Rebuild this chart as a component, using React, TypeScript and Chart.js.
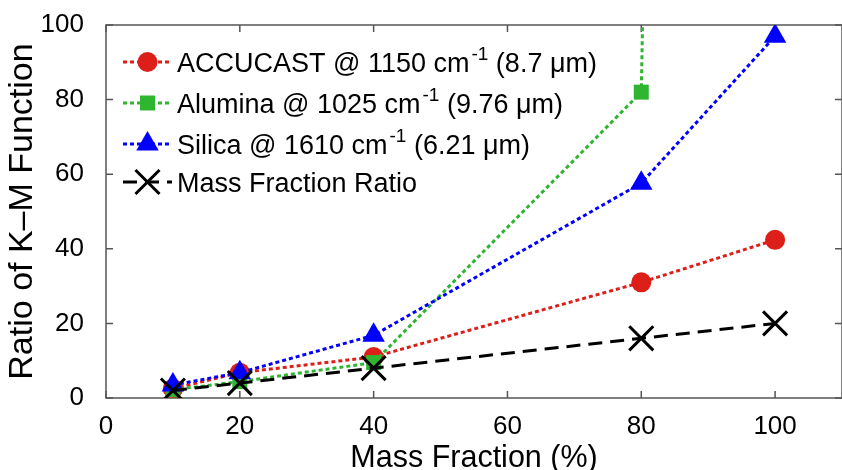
import React, { useEffect, useRef } from 'react';
import { Chart, registerables } from 'chart.js';

Chart.register(...registerables);

const massFraction = [10, 20, 40, 80, 100];
const accucast = [2.5, 6.8, 11, 31, 42.4];
const alumina = [2.2, 4.4, 9.5, 82, 2000];
const silica = [3.5, 6.8, 16.8, 57.6, 97];
const massRatio = [2, 4, 8, 16, 20];
const xTicks = [0, 20, 40, 60, 80, 100];
const yTicks = [0, 20, 40, 60, 80, 100];

const FONT = "'Liberation Sans', Arial, sans-serif";

const legendItems = [
  { pre: 'ACCUCAST @ 1150 cm', sup: '-1', post: ' (8.7 μm)', color: '#dd1f1a', dash: [4, 3], style: 'circle', r: 10 },
  { pre: 'Alumina @ 1025 cm', sup: '-1', post: ' (9.76 μm)', color: '#2fb52f', dash: [4, 3], style: 'rect', r: 10.6 },
  { pre: 'Silica @ 1610 cm', sup: '-1', post: ' (6.21 μm)', color: '#0000ff', dash: [4, 3], style: 'triangle', r: 13 },
  { pre: 'Mass Fraction Ratio', sup: '', post: '', color: '#000000', dash: [14, 8], style: 'crossRot', r: 17 },
];

function marker(ctx: CanvasRenderingContext2D, style: string, r: number, x: number, y: number) {
  ctx.beginPath();
  if (style === 'circle') {
    ctx.arc(x, y, r, 0, Math.PI * 2);
    ctx.fill();
  } else if (style === 'rect') {
    const s = Math.SQRT1_2 * r;
    ctx.rect(x - s, y - s, 2 * s, 2 * s);
    ctx.fill();
  } else if (style === 'triangle') {
    ctx.moveTo(x, y - r);
    ctx.lineTo(x + r * Math.sin(Math.PI / 3), y + r * 0.5);
    ctx.lineTo(x - r * Math.sin(Math.PI / 3), y + r * 0.5);
    ctx.closePath();
    ctx.fill();
  } else {
    const o = Math.SQRT1_2 * r;
    ctx.moveTo(x - o, y - o);
    ctx.lineTo(x + o, y + o);
    ctx.moveTo(x - o, y + o);
    ctx.lineTo(x + o, y - o);
    ctx.lineWidth = 3;
    ctx.stroke();
  }
}

const framePlugin = {
  id: 'frame',
  beforeDatasetsDraw(chart: any) {
    const { ctx, chartArea } = chart;
    const { left, right, top, bottom } = chartArea;
    const xs = chart.scales.x;
    const ys = chart.scales.y;
    ctx.save();
    ctx.strokeStyle = '#555555';
    ctx.lineWidth = 1.5;
    ctx.strokeRect(left, top, right - left, bottom - top);
    ctx.beginPath();
    const tl = 7;
    xTicks.forEach((v) => {
      const px = xs.getPixelForValue(v);
      ctx.moveTo(px, bottom);
      ctx.lineTo(px, bottom - tl);
      ctx.moveTo(px, top);
      ctx.lineTo(px, top + tl);
    });
    yTicks.forEach((v) => {
      const py = ys.getPixelForValue(v);
      ctx.moveTo(left, py);
      ctx.lineTo(left + tl, py);
      ctx.moveTo(right, py);
      ctx.lineTo(right - tl, py);
    });
    ctx.stroke();
    ctx.restore();
  },
};

const legendPlugin = {
  id: 'customLegend',
  afterDraw(chart: any) {
    const { ctx } = chart;
    const x0 = 123;
    const x1 = 172;
    const tx = 177;
    const rows = [62, 103, 144, 182];
    ctx.save();
    legendItems.forEach((it, i) => {
      const y = rows[i];
      ctx.strokeStyle = it.color;
      ctx.lineWidth = 3;
      ctx.setLineDash(it.dash);
      ctx.beginPath();
      ctx.moveTo(x0, y);
      ctx.lineTo(x1, y);
      ctx.stroke();
      ctx.setLineDash([]);
      ctx.fillStyle = it.color;
      marker(ctx, it.style, it.r, (x0 + x1) / 2, y);
      ctx.fillStyle = '#000';
      ctx.textBaseline = 'alphabetic';
      ctx.textAlign = 'left';
      ctx.font = `27px ${FONT}`;
      const base = y + 10;
      let cx = tx;
      ctx.fillText(it.pre, cx, base);
      cx += ctx.measureText(it.pre).width + 2;
      if (it.sup) {
        ctx.font = `19px ${FONT}`;
        ctx.fillText(it.sup, cx, base - 12);
        cx += ctx.measureText(it.sup).width;
        ctx.font = `27px ${FONT}`;
        ctx.fillText(it.post, cx, base);
      }
    });
    ctx.restore();
  },
};

export default function App() {
  const ref = useRef<HTMLCanvasElement>(null);
  useEffect(() => {
    if (!ref.current) return;
    const mk = (arr: number[]) => massFraction.map((x, i) => ({ x, y: arr[i] }));
    const chart = new Chart(ref.current, {
      type: 'line',
      data: {
        datasets: [
          {
            label: 'ACCUCAST @ 1150 cm-1 (8.7 μm)',
            data: mk(accucast),
            borderColor: '#dd1f1a',
            backgroundColor: '#dd1f1a',
            borderWidth: 3,
            borderDash: [4, 3],
            pointStyle: 'circle',
            pointRadius: 10,
            pointBorderWidth: 0,
            order: 3,
          },
          {
            label: 'Alumina @ 1025 cm-1 (9.76 μm)',
            data: mk(alumina),
            borderColor: '#2fb52f',
            backgroundColor: '#2fb52f',
            borderWidth: 3,
            borderDash: [4, 3],
            pointStyle: 'rect',
            pointRadius: 10.6,
            pointBorderWidth: 0,
            order: 2,
          },
          {
            label: 'Silica @ 1610 cm-1 (6.21 μm)',
            data: mk(silica),
            borderColor: '#0000ff',
            backgroundColor: '#0000ff',
            borderWidth: 3,
            borderDash: [4, 3],
            pointStyle: 'triangle',
            pointRadius: 13,
            pointBorderWidth: 0,
            order: 1,
          },
          {
            label: 'Mass Fraction Ratio',
            data: mk(massRatio),
            borderColor: '#000000',
            backgroundColor: '#000000',
            borderWidth: 3,
            borderDash: [14, 8],
            pointStyle: 'crossRot',
            pointRadius: 17,
            pointBorderWidth: 3,
            order: 0,
          },
        ],
      },
      options: {
        animation: false,
        responsive: true,
        maintainAspectRatio: false,
        layout: { autoPadding: false, padding: { top: 25, right: 0, left: 0, bottom: 0 } },
        plugins: { legend: { display: false }, tooltip: { enabled: false } },
        scales: {
          x: {
            type: 'linear',
            min: 0,
            max: 110,
            grid: { display: false },
            border: { display: false },
            afterBuildTicks: (s: any) => {
              s.ticks = xTicks.map((v) => ({ value: v }));
            },
            afterFit: (s: any) => {
              s.height = 72;
              s.paddingLeft = 0;
              s.paddingRight = 0;
            },
            ticks: { color: '#000', font: { family: FONT, size: 26 }, padding: 5 },
            title: {
              display: true,
              text: 'Mass Fraction (%)',
              color: '#000',
              font: { family: FONT, size: 30.5, lineHeight: 1 },
              padding: { top: 0, bottom: -4 },
            },
          },
          y: {
            type: 'linear',
            min: 0,
            max: 100,
            grid: { display: false },
            border: { display: false },
            afterBuildTicks: (s: any) => {
              s.ticks = yTicks.map((v) => ({ value: v }));
            },
            afterFit: (s: any) => {
              s.width = 106;
              s.paddingTop = 0;
              s.paddingBottom = 0;
            },
            ticks: { color: '#000', font: { family: FONT, size: 26 }, padding: 14 },
            title: {
              display: true,
              text: 'Ratio of K–M Function',
              color: '#000',
              font: { family: FONT, size: 34, lineHeight: 1 },
              padding: { top: 6, bottom: 0 },
            },
          },
        },
      },
      plugins: [framePlugin, legendPlugin],
    } as any);
    return () => chart.destroy();
  }, []);
  return (
    <div style={{ position: 'absolute', left: 0, top: 0, width: 842, height: 470 }}>
      <canvas ref={ref} />
    </div>
  );
}
